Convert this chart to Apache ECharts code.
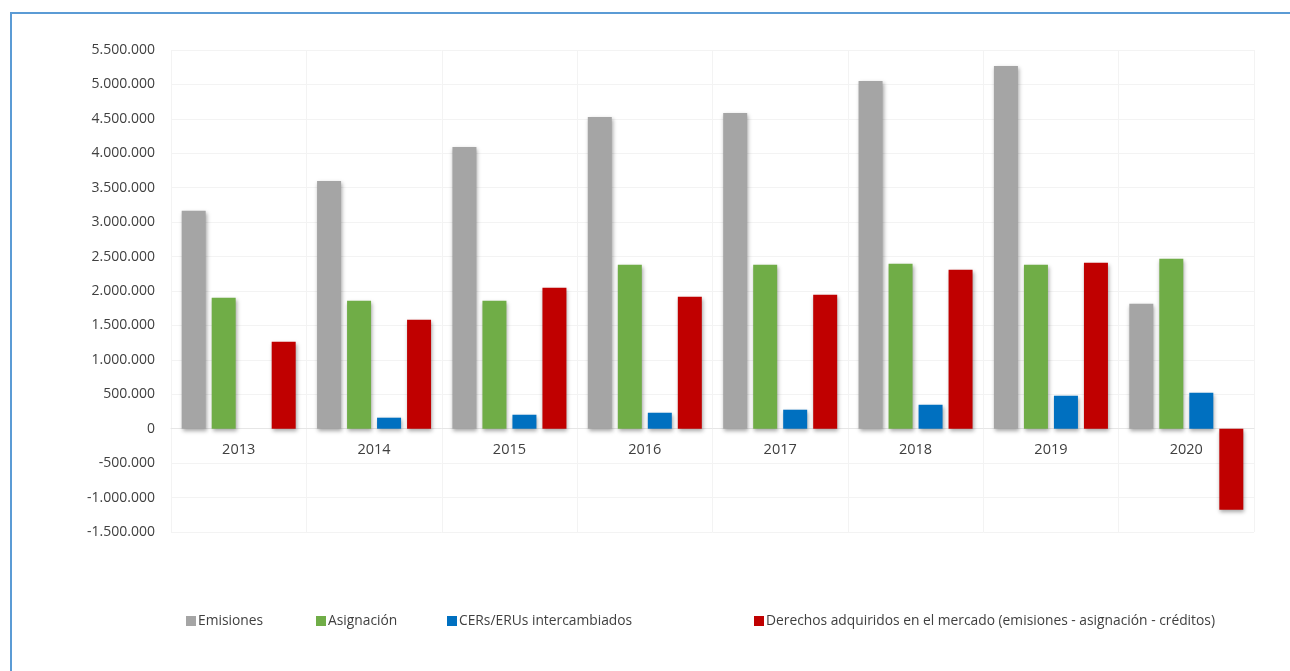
<!DOCTYPE html>
<html><head><meta charset="utf-8">
<script src="https://cdn.jsdelivr.net/npm/echarts@6/dist/echarts.min.js"></script>
<style>
html,body{margin:0;padding:0;background:#fff;}
#frame{position:absolute;left:10px;top:12px;right:-10px;bottom:-10px;border-top:2px solid #5B9BD5;border-left:2px solid #5B9BD5;}
#main{position:absolute;left:0;top:0;width:1290px;height:671px;}
</style></head>
<body>
<div id="frame"></div>
<div id="main"></div>
<script>
const categories = ['2013','2014','2015','2016','2017','2018','2019','2020'];
const emisiones = [3164000, 3599000, 4093000, 4528000, 4586000, 5051000, 5269000, 1814000];
const asignacion = [1901000, 1858000, 1858000, 2380000, 2380000, 2395000, 2380000, 2467000];
const cers = [0, 160000, 203000, 232000, 276000, 348000, 479000, 522000];
const derechos = [1263000, 1582000, 2046000, 1916000, 1945000, 2308000, 2409000, -1176000];
const seriesNames = ['Emisiones','Asignación','CERs/ERUs intercambiados','Derechos adquiridos en el mercado (emisiones - asignación - créditos)'];
const colors = ['#A5A5A5','#70AD47','#0070C0','#C00000'];

const fmt = v => {
  const s = Math.abs(v).toString().replace(/\B(?=(\d{3})+(?!\d))/g, '.');
  return (v < 0 ? '-' : '') + s;
};
const font = '"Open Sans", "Noto Sans", sans-serif';
const chart = echarts.init(document.getElementById('main'));
const dataArr = [emisiones, asignacion, cers, derechos];
const legendLefts = [186, 316, 447, 754];
chart.setOption({
  animation: false,
  color: colors,
  grid: {left: 171, right: 36, top: 50, bottom: 139, containLabel: false},
  legend: seriesNames.map((n, i) => ({
    data: [n], left: legendLefts[i], top: 614, padding: 0, itemWidth: 10, itemHeight: 10, itemGap: 4,
    icon: 'rect',
    textStyle: {fontFamily: font, fontSize: 13.8, color: '#404040', padding: [0,0,0,-3]}
  })),
  xAxis: {
    type: 'category', data: categories,
    offset: -103.5,
    axisLine: {lineStyle: {color: '#e6e6e6'}},
    axisTick: {show: false},
    axisLabel: {fontFamily: font, fontSize: 14.5, color: '#404040', margin: 14},
    splitLine: {show: true, lineStyle: {color: '#f3f3f3'}}
  },
  yAxis: {
    type: 'value', min: -1500000, max: 5500000, interval: 500000,
    axisLine: {show: false}, axisTick: {show: false},
    axisLabel: {fontFamily: font, fontSize: 14, color: '#404040', margin: 16, formatter: fmt},
    splitLine: {lineStyle: {color: '#f3f3f3'}}
  },
  series: dataArr.map((d, i) => ({
    name: seriesNames[i], type: 'bar', data: d,
    barWidth: 24, barGap: '25%',
    itemStyle: {color: colors[i], shadowBlur: 4, shadowOffsetX: 1, shadowOffsetY: 2, shadowColor: 'rgba(0,0,0,0.35)'}
  }))
});
</script>
</body></html>
